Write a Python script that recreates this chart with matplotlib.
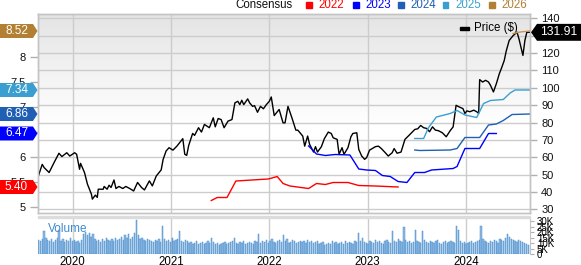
import numpy as np
import matplotlib
matplotlib.use('Agg')
import matplotlib.pyplot as plt
from matplotlib.patches import Polygon, Rectangle
from matplotlib.transforms import blended_transform_factory

plt.rcParams['font.family'] = ['Liberation Sans', 'DejaVu Sans']

# ---------------- data ----------------
price_years = [2019.64, 2019.69, 2019.71, 2019.76, 2019.81, 2019.86, 2019.89, 2019.94, 2019.97, 2020.02,
               2020.04, 2020.07, 2020.08, 2020.12, 2020.15, 2020.19, 2020.20, 2020.23, 2020.25, 2020.26,
               2020.31, 2020.32, 2020.35, 2020.37, 2020.39, 2020.42, 2020.44, 2020.47, 2020.51, 2020.54,
               2020.58, 2020.62, 2020.66, 2020.70, 2020.73, 2020.78, 2020.81, 2020.85, 2020.90, 2020.92,
               2020.95, 2020.98, 2021.02, 2021.06, 2021.12, 2021.14, 2021.16, 2021.18, 2021.22, 2021.24,
               2021.28, 2021.31, 2021.34, 2021.39, 2021.43, 2021.45, 2021.48, 2021.51, 2021.54, 2021.58,
               2021.62, 2021.65, 2021.68, 2021.70, 2021.72, 2021.74, 2021.78, 2021.80, 2021.83, 2021.85,
               2021.88, 2021.91, 2021.94, 2021.97, 2022.00, 2022.02, 2022.05, 2022.10, 2022.14, 2022.16,
               2022.19, 2022.23, 2022.27, 2022.29, 2022.34, 2022.36, 2022.39, 2022.41, 2022.45, 2022.47,
               2022.49, 2022.53, 2022.56, 2022.60, 2022.63, 2022.65, 2022.69, 2022.71, 2022.74, 2022.76,
               2022.80, 2022.83, 2022.85, 2022.89, 2022.91, 2022.94, 2022.97, 2022.99, 2023.02, 2023.08,
               2023.11, 2023.14, 2023.18, 2023.21, 2023.25, 2023.27, 2023.30, 2023.34, 2023.38, 2023.43,
               2023.48, 2023.51, 2023.54, 2023.57, 2023.60, 2023.63, 2023.66, 2023.69, 2023.72, 2023.76,
               2023.80, 2023.84, 2023.87, 2023.90, 2023.93, 2023.97, 2023.99, 2024.01, 2024.04, 2024.08,
               2024.11, 2024.13, 2024.14, 2024.17, 2024.20, 2024.23, 2024.25, 2024.28, 2024.31, 2024.34,
               2024.36, 2024.39, 2024.41, 2024.44, 2024.48, 2024.52, 2024.54, 2024.58, 2024.60, 2024.62,
               2024.65]
price_vals = [47.4, 55.9, 54.0, 51.2, 56.9, 62.3, 60.4, 62.6, 60.7, 62.6,
              61.7, 53.1, 56.5, 51.2, 44.5, 38.8, 35.9, 38.2, 36.9, 41.6,
              41.6, 43.2, 41.6, 43.9, 42.6, 46.9, 42.0, 43.2, 42.0, 43.2,
              42.0, 40.6, 45.5, 42.6, 41.2, 46.4, 43.5, 49.2, 52.7, 58.8,
              63.6, 65.5, 64.1, 66.4, 70.7, 61.7, 61.1, 66.8, 73.7, 72.6,
              77.0, 74.5, 78.9, 77.0, 82.7, 77.5, 82.3, 81.7, 77.0, 80.8,
              81.7, 91.3, 92.2, 90.3, 92.8, 90.3, 93.6, 91.3, 89.3, 89.7,
              85.9, 89.3, 87.9, 90.3, 92.2, 94.7, 84.0, 87.5, 79.8, 79.8,
              89.3, 82.7, 75.6, 75.6, 72.2, 66.4, 72.2, 67.4, 63.0, 66.1,
              63.0, 66.1, 70.7, 74.5, 73.7, 71.2, 70.3, 61.7, 65.5, 61.7,
              65.5, 71.8, 73.7, 74.1, 64.5, 60.7, 58.8, 59.8, 64.1, 66.1,
              66.4, 65.0, 62.6, 60.7, 62.6, 65.0, 62.3, 63.0, 70.3, 73.1,
              76.0, 76.4, 78.3, 77.0, 76.6, 74.7, 77.5, 75.6, 75.3, 74.1,
              71.8, 75.3, 77.5, 89.9, 89.0, 88.0, 85.2, 86.7, 86.2, 87.1,
              86.2, 85.2, 104.7, 103.3, 104.3, 103.3, 101.4, 97.6, 102.4, 108.1,
              111.0, 115.7, 121.1, 127.2, 130.0, 132.0, 128.1, 118.6, 127.2, 132.0,
              131.91]

eps22_years = [2021.41, 2021.47, 2021.57, 2021.66, 2021.99, 2022.08, 2022.14, 2022.21, 2022.40, 2022.48,
               2022.57, 2022.65, 2022.80, 2022.91, 2023.08, 2023.31]
eps22_vals = [5.13, 5.19, 5.19, 5.52, 5.56, 5.61, 5.47, 5.42, 5.37, 5.47,
              5.45, 5.49, 5.49, 5.43, 5.42, 5.40]

eps23_years = [2022.40, 2022.48, 2022.57, 2022.67, 2022.82, 2022.91, 2022.99, 2023.08, 2023.15, 2023.23,
               2023.31, 2023.40, 2023.48, 2023.58, 2023.65, 2023.87, 2023.91, 2023.99, 2024.14, 2024.23,
               2024.31]
eps23_vals = [6.22, 6.06, 6.03, 6.05, 6.04, 5.76, 5.74, 5.73, 5.63, 5.61,
              5.51, 5.49, 5.69, 5.69, 5.74, 5.77, 5.81, 6.17, 6.17, 6.47,
              6.47]

eps24_years = [2023.48, 2023.53, 2023.84, 2023.91, 2023.99, 2024.14, 2024.23, 2024.31, 2024.38, 2024.47,
               2024.65]
eps24_vals = [6.14, 6.13, 6.14, 6.17, 6.39, 6.39, 6.64, 6.66, 6.73, 6.85,
              6.86]

eps25_years = [2023.48, 2023.57, 2023.62, 2023.70, 2023.84, 2023.91, 2023.99, 2024.11, 2024.18, 2024.25,
               2024.38, 2024.45, 2024.50, 2024.65]
eps25_vals = [6.37, 6.37, 6.59, 6.80, 6.87, 6.93, 6.84, 6.79, 7.07, 7.13,
              7.15, 7.28, 7.34, 7.34]

eps26_years = [2024.48, 2024.55, 2024.65]
eps26_vals = [8.47, 8.50, 8.52]

volume_k = [13, 12, 14, 21, 15, 13, 12, 14, 11, 13, 15, 22, 12, 14, 11, 13, 12, 15, 12, 13,
            11, 12, 10, 13, 18, 20, 17, 19, 16, 18, 14, 12, 13, 11, 14, 12, 15, 13, 12, 14,
            12, 15, 13, 14, 16, 13, 17, 15, 18, 14, 16, 19, 31, 17, 14, 15, 13, 12, 14, 13,
            12, 11, 13, 12, 14, 11, 26, 14, 12, 13, 11, 15, 12, 13, 14, 21, 12, 11, 13, 12,
            10, 11, 9, 10, 12, 9, 10, 11, 9, 10, 12, 10, 15, 11, 9, 10, 8, 9, 10, 11,
            9, 10, 11, 12, 15, 10, 9, 11, 10, 12, 9, 10, 11, 10, 9, 12, 11, 18, 10, 12,
            11, 13, 10, 12, 14, 11, 10, 12, 13, 11, 17, 12, 14, 10, 11, 13, 12, 10, 11, 12,
            11, 12, 10, 13, 11, 12, 10, 11, 12, 9, 10, 11, 8, 9, 10, 9, 12, 10, 11, 9,
            10, 11, 9, 12, 10, 11, 10, 9, 12, 11, 19, 12, 15, 11, 10, 9, 12, 11, 10, 13,
            11, 12, 10, 9, 12, 13, 11, 10, 21, 12, 11, 14, 12, 11, 25, 13, 11, 12, 10, 11,
            22, 12, 11, 10, 21, 13, 11, 10, 12, 11, 10, 12, 13, 10, 9, 11, 12, 10, 11, 12,
            11, 10, 26, 22, 12, 10, 11, 9, 10, 11, 12, 10, 11, 12, 13, 26, 14, 12, 11, 10,
            12, 11, 13, 12, 10, 14, 13, 12, 15, 18, 16, 14, 13, 12, 11, 13, 12, 11, 10, 9, 8]

year_ticks = [2020, 2021, 2022, 2023, 2024]
year_labels = ['2020', '2021', '2022', '2023', '2024']
price_ticks = [30, 40, 50, 60, 70, 80, 90, 100, 110, 120, 130, 140]
eps_ticks = [5, 5.5, 6, 6.5, 7, 7.5, 8]
vol_ticks = [0, 5, 10, 15, 20, 25, 30]
vol_labels = ['0', '5K', '10K', '15K', '20K', '25K', '30K']
legend_years = ['2022', '2023', '2024', '2025', '2026']
legend_colors = ['#ff0000', '#0000ff', '#1f5fb4', '#3a9fd0', '#b27f33']
tag_values = [8.52, 7.34, 6.86, 6.47, 5.40]
tag_colors = ['#b27f33', '#3a9fd0', '#1f5fb4', '#0000ff', '#ff0000']
last_price = 131.91

# ---------------- layout ----------------
W, H = 581, 265
fig = plt.figure(figsize=(W / 100, H / 100), dpi=100)
fig.patch.set_facecolor('white')

def fx(x):
    return x / W

def fy(y):
    return 1 - y / H

L, R = 38, 530
XMIN, XMAX = 2019.647, 2024.652
grid_c = '#cccccc'
spine_c = '#c4c4c4'

pax = fig.add_axes([fx(L), fy(212.5), fx(R) - fx(L), fy(14) - fy(212.5)])
eax = pax.twinx()
pax.yaxis.set_ticks_position('right')
eax.yaxis.set_ticks_position('left')

# gradient background
grad = np.linspace(0.895, 1.0, 200)
grad = np.concatenate([grad, np.ones(160)])[::-1].reshape(-1, 1)
pax.imshow(np.dstack([grad, grad, grad]), extent=[0, 1, 0, 1], transform=pax.transAxes,
           aspect='auto', zorder=0, origin='lower', interpolation='bicubic')

pax.set_xlim(XMIN, XMAX)
pax.set_ylim(28.2, 142.46)
eax.set_ylim(4.89, 8.86)

pax.set_xticks(year_ticks)
pax.set_xticklabels([])
pax.set_yticks(price_ticks)
pax.set_yticklabels([str(t) for t in price_ticks])
pax.grid(True, color=grid_c, lw=1, zorder=1)
pax.set_axisbelow(True)
pax.tick_params(axis='x', length=0)
pax.tick_params(axis='y', right=True, left=False, length=5, width=1, color='#b0b0b0',
                labelsize=8, pad=3, labelcolor='#111111')
eax.set_yticks(eps_ticks)
eax.set_yticklabels(['%g' % t for t in eps_ticks])
eax.tick_params(axis='y', left=True, right=False, length=6, width=1, color='#b0b0b0',
                labelsize=8, pad=3, labelcolor='#111111')
for a in (pax, eax):
    for s in a.spines.values():
        s.set_color(spine_c)
        s.set_linewidth(1)

pax.plot(price_years, price_vals, color='black', lw=1.0, zorder=3)
eax.plot(eps22_years, eps22_vals, color='#ff0000', lw=1.0)
eax.plot(eps23_years, eps23_vals, color='#0000ff', lw=1.0)
eax.plot(eps24_years, eps24_vals, color='#1f5fb4', lw=1.0)
eax.plot(eps25_years, eps25_vals, color='#3a9fd0', lw=1.0)
eax.plot(eps26_years, eps26_vals, color='#c8965a', lw=1.0)

# Price legend in plot
pax.add_patch(Rectangle((0.858, 0.918), 0.019, 0.018, transform=pax.transAxes,
                        color='black', zorder=5))
pax.text(0.887, 0.928, 'Price ($)', transform=pax.transAxes, fontsize=8.3,
         va='center', ha='left', zorder=5)

# volume panel
vax = fig.add_axes([fx(L), fy(254), fx(R) - fx(L), fy(218) - fy(254)])
vol_x = XMIN + np.arange(len(volume_k)) * 7 / 365.25 + 0.004
vax.bar(vol_x, volume_k, width=4.8 / 365.25, color='#8fbbe3', edgecolor='#4a8dcc',
        linewidth=0.35, zorder=2)
vax.set_xlim(XMIN, XMAX)
vax.set_ylim(0, 33)
vax.set_xticks(year_ticks)
vax.set_xticklabels(year_labels)
vax.grid(True, axis='x', color=grid_c, lw=1, zorder=1)
vax.set_axisbelow(True)
vax.yaxis.set_ticks_position('right')
vax.set_yticks(vol_ticks)
vax.set_yticklabels(vol_labels)
vax.tick_params(axis='y', right=True, left=False, length=3, color='#b0b0b0', labelsize=7, pad=2)
vax.tick_params(axis='x', length=0, labelsize=8.3, pad=1.5)
for s in vax.spines.values():
    s.set_visible(False)
vax.spines['right'].set_visible(True)
vax.spines['right'].set_color(spine_c)
vax.text(0.021, 0.70, 'Volume', transform=vax.transAxes, fontsize=8.5, color='#3f8ad0',
         va='center', ha='left')

# separator band
fig.add_artist(Rectangle((fx(L), fy(218.3)), fx(R) - fx(L), 2.6 / H, transform=fig.transFigure,
                         color='#dcdcdc', zorder=1))

# top consensus legend
fig.text(fx(293), fy(4.6), 'Consensus', ha='right', va='center', fontsize=8.3, color='#111111')
sq_x = [306, 353, 398, 443, 489]
for xq, lab, col in zip(sq_x, legend_years, legend_colors):
    fig.add_artist(Rectangle((fx(xq), fy(7.5)), 5.5 / W, 5.5 / H, transform=fig.transFigure,
                             color=col))
    fig.text(fx(xq + 12), fy(4.6), lab, ha='left', va='center', fontsize=8.3, color=col)

# left EPS tags
tr_e = blended_transform_factory(fig.transFigure, eax.transData)
hh = 7.0 / 50.0
for v, col in zip(tag_values, tag_colors):
    poly = Polygon([(0, v - hh), (fx(33), v - hh), (fx(37.5), v), (fx(33), v + hh), (0, v + hh)],
                   closed=True, transform=tr_e, facecolor=col, edgecolor='none', zorder=6)
    fig.add_artist(poly)
    fig.text(fx(16.5), v, '%.2f' % v, transform=tr_e, ha='center', va='center',
             fontsize=8.5, color='white', zorder=7)

# right price tag
tr_p = blended_transform_factory(fig.transFigure, pax.transData)
ph = 8.5 * 0.573
poly = Polygon([(fx(531), last_price), (fx(537), last_price - ph), (1, last_price - ph),
                (1, last_price + ph), (fx(537), last_price + ph)], closed=True,
               transform=tr_p, facecolor='black', edgecolor='none', zorder=6)
fig.add_artist(poly)
fig.text(fx(558.5), last_price, '%.2f' % last_price, transform=tr_p, ha='center', va='center',
         fontsize=8.7, color='white', zorder=7)

fig.savefig('out.png', dpi=100)
